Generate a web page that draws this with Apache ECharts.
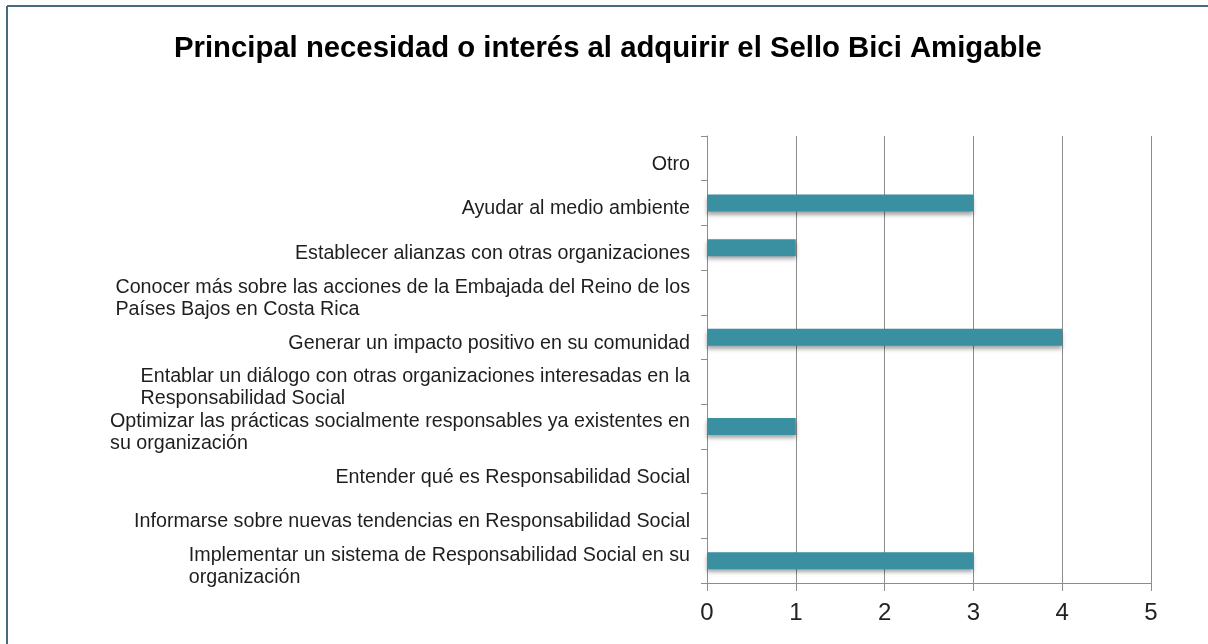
<!DOCTYPE html>
<html>
<head>
<meta charset="utf-8">
<title>Principal necesidad o interés al adquirir el Sello Bici Amigable</title>
<script src="https://cdn.jsdelivr.net/npm/echarts@6/dist/echarts.min.js"></script>
<style>
  html, body { margin: 0; padding: 0; background: #ffffff; }
  #chart { width: 1208px; height: 644px; }
</style>
</head>
<body>
<div id="chart"></div>
<script>
// Survey answers, listed bottom to top as they appear on the vertical axis
const categories = [
  "Implementar un sistema de Responsabilidad Social en su\norganización",
  "Informarse sobre nuevas tendencias en Responsabilidad Social",
  "Entender qué es Responsabilidad Social",
  "Optimizar las prácticas socialmente responsables ya existentes en\nsu organización",
  "Entablar un diálogo con otras organizaciones interesadas en la\nResponsabilidad Social",
  "Generar un impacto positivo en su comunidad",
  "Conocer más sobre las acciones de la Embajada del Reino de los\nPaíses Bajos en Costa Rica",
  "Establecer alianzas con otras organizaciones",
  "Ayudar al medio ambiente",
  "Otro"
];
// Number of organisations choosing each answer
const counts = [3, 0, 0, 1, 0, 4, 0, 1, 3, 0];
// Value axis range and step
const axisMin = 0;
const axisMax = 5;
const axisStep = 1;

const titleText = "Principal necesidad o interés al adquirir el Sello Bici Amigable";
const FONT = "'Liberation Sans', Arial, Helvetica, sans-serif";

const chart = echarts.init(document.getElementById('chart'), null, { renderer: 'canvas' });

chart.setOption({
  backgroundColor: '#ffffff',
  animation: false,
  title: {
    text: titleText,
    left: 174,
    top: 34,
    padding: 0,
    textStyle: {
      fontFamily: FONT,
      fontSize: 29.3,
      fontWeight: 'bold',
      color: '#000000'
    }
  },
  graphic: [
    { type: 'line', shape: { x1: 7, y1: 6, x2: 1208, y2: 6 }, style: { stroke: '#476a7d', lineWidth: 2 }, silent: true },
    { type: 'line', shape: { x1: 7, y1: 6, x2: 7, y2: 644 }, style: { stroke: '#476a7d', lineWidth: 2 }, silent: true }
  ],
  grid: {
    left: 707,
    right: 57,
    top: 136,
    bottom: 61,
    containLabel: false
  },
  xAxis: {
    type: 'value',
    min: axisMin,
    max: axisMax,
    interval: axisStep,
    axisLine: { show: true, lineStyle: { color: '#8c8c8c', width: 1 } },
    axisTick: { show: true, length: 8, lineStyle: { color: '#8c8c8c' } },
    splitLine: { show: true, lineStyle: { color: '#8c8c8c', width: 1 } },
    axisLabel: {
      margin: 18,
      fontFamily: FONT,
      fontSize: 24,
      color: '#222222'
    }
  },
  yAxis: {
    type: 'category',
    data: categories,
    boundaryGap: true,
    axisLine: { show: true, lineStyle: { color: '#8c8c8c', width: 1 } },
    axisTick: { show: true, length: 6, lineStyle: { color: '#8c8c8c' } },
    splitLine: { show: false },
    axisLabel: {
      margin: 17,
      align: 'right',
      interval: 0,
      padding: [12, 0, 0, 0],
      fontFamily: FONT,
      fontSize: 19.7,
      color: '#1e1e1e',
      lineHeight: 22,
      // lines of a wrapped label share a common left edge
      formatter: function (value) {
        return value.split('\n').map(function (line) { return '{l|' + line + '}'; }).join('\n');
      },
      rich: {
        l: {
          align: 'left',
          fontFamily: FONT,
          fontSize: 19.7,
          color: '#1e1e1e',
          lineHeight: 22
        }
      }
    }
  },
  series: [{
    type: 'bar',
    data: counts,
    barWidth: 17,
    itemStyle: {
      color: '#3a8fa1',
      shadowColor: 'rgba(0, 0, 0, 0.35)',
      shadowBlur: 4,
      shadowOffsetY: 3
    },
    silent: true
  }]
});
</script>
</body>
</html>
